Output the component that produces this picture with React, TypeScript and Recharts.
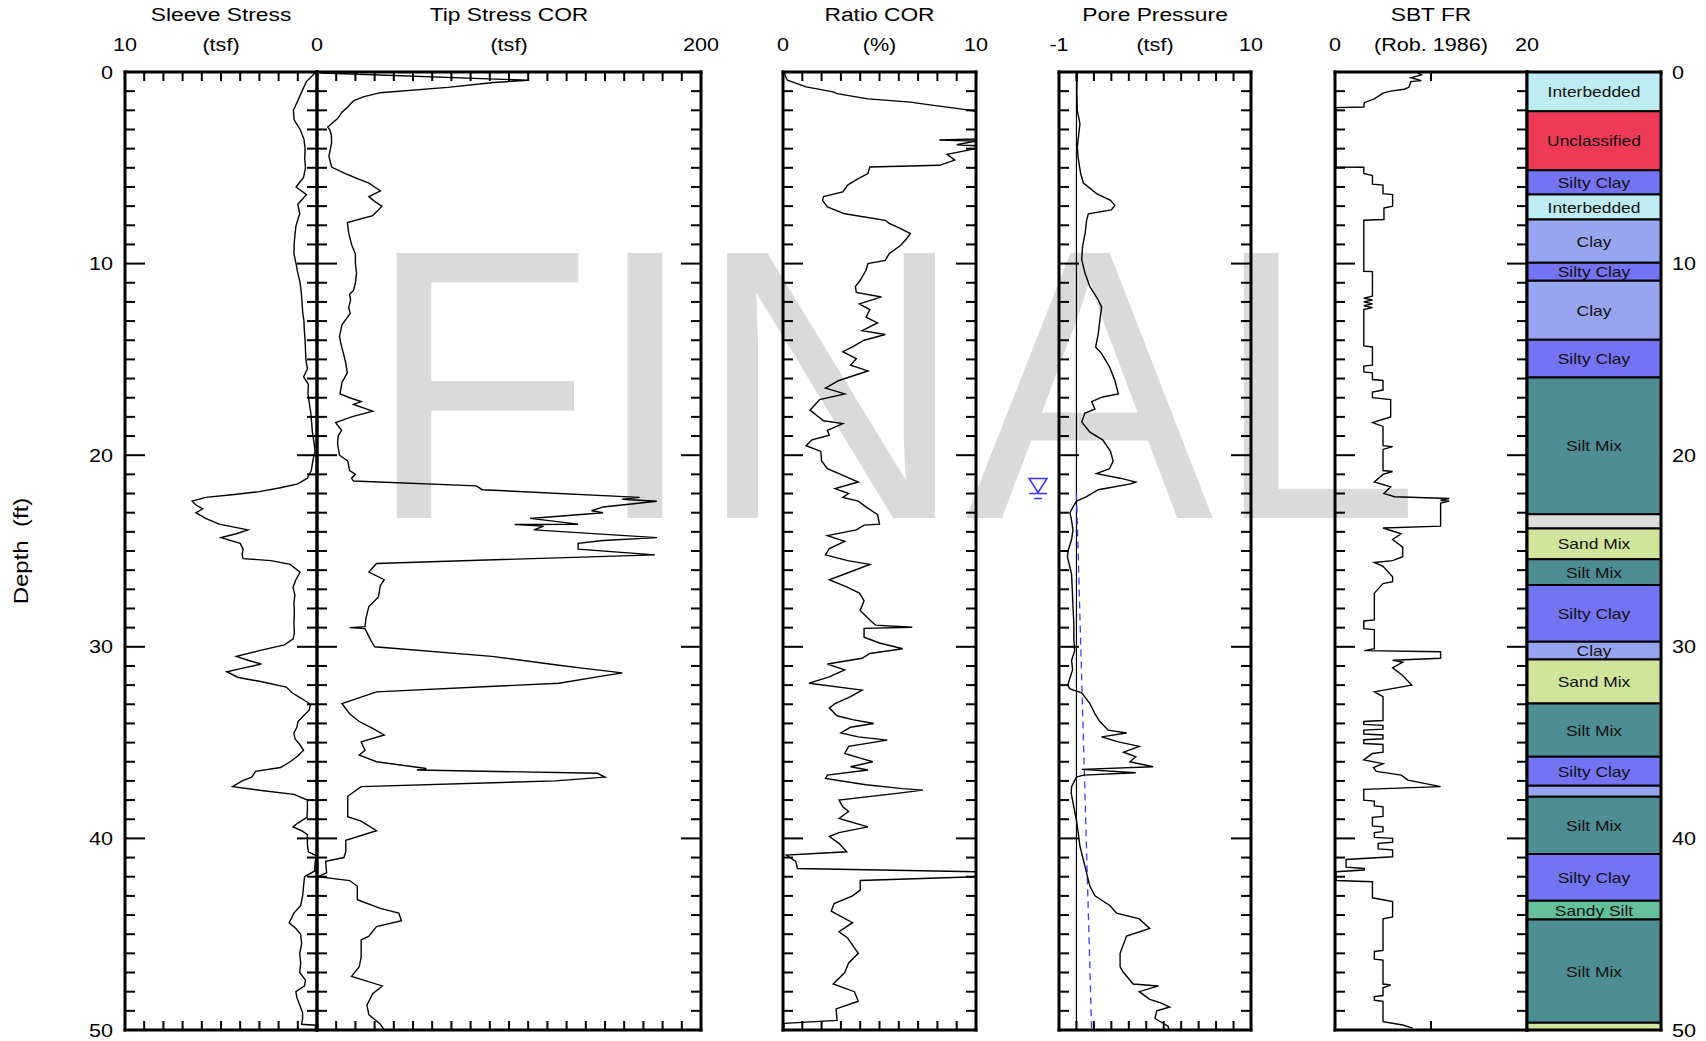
import React from "react";
import { ScatterChart, Scatter, XAxis, YAxis, ReferenceArea, ReferenceLine, ReferenceDot } from "recharts";

const FONT = '"Liberation Sans", Arial, Helvetica, sans-serif';
const TOP = 72;
const PLOT_H = 958;
const PAD = 12;
const BORDER = { stroke: "#000", strokeWidth: 3, strokeLinecap: "square" };

// ---- CPT readings (depth in ft) ----
const SLEEVE_DEPTH = [
  0, 0.5, 1, 1.5, 2, 2.5, 3, 3.5, 4, 4.5, 5, 5.5, 6, 6.4, 6.9, 7.4, 8, 8.5, 9, 9.5, 10, 10.5, 11, 11.5, 12, 12.5,
  13, 13.5, 14, 14.5, 15, 15.5, 15.9, 16.3, 16.8, 17.3, 17.8, 18.3, 18.8, 19.3, 19.8, 20.2, 20.8, 21.2, 21.5, 21.7,
  21.9, 22.05, 22.2, 22.4, 22.6, 22.8, 23, 23.3, 23.6, 23.9, 24.1, 24.3, 24.6, 24.9, 25.2, 25.4, 25.5, 25.7, 26.1,
  26.5, 26.9, 27.3, 27.7, 28.2, 28.8, 29.3, 29.6, 29.9, 30.2, 30.5, 30.7, 30.9, 31.1, 31.3, 31.6, 31.8, 32.1, 32.4,
  32.7, 33, 33.3, 33.6, 33.9, 34.2, 34.5, 34.8, 35.1, 35.4, 35.7, 36, 36.3, 36.5, 36.8, 37, 37.3, 37.5, 37.7, 38,
  38.5, 38.9, 39.2, 39.4, 39.6, 39.8, 40.3, 40.7, 40.9, 41.3, 41.7, 42, 42.5, 43, 43.5, 43.9, 44.4, 44.7, 45, 45.5,
  46, 46.5, 47, 47.4, 47.7, 48, 48.3, 48.7, 49.1, 49.4, 49.7, 49.75, 50,
];
const SLEEVE_TSF = [
  0.05, 0.55, 0.78, 1, 1.23, 1.19, 0.88, 0.68, 0.62, 0.64, 0.6, 0.7, 1.09, 0.55, 1, 0.9, 1.09, 1.15, 1.19, 1.2, 1.09,
  1, 0.88, 0.82, 0.78, 0.75, 0.68, 0.66, 0.62, 0.6, 0.58, 0.5, 0.7, 0.45, 0.47, 0.4, 0.32, 0.28, 0.24, 0.16, 0.1,
  0.2, 0.3, 0.5, 1, 1.9, 3, 4.3, 5.8, 6.5, 6.3, 5.95, 6.3, 5.8, 5.1, 3.6, 4.2, 5, 4, 3.85, 3.9, 3.85, 2.4, 1.4, 0.88,
  1.1, 1.25, 1.15, 1.2, 1.18, 1.2, 1.18, 1.25, 1.7, 3, 4.2, 3.6, 2.9, 3.8, 4.7, 4.1, 3, 1.6, 1.3, 0.8, 0.35, 0.4,
  0.7, 0.99, 1.05, 1.2, 1.15, 0.9, 0.7, 1, 1.4, 1.9, 3.2, 3.4, 3.9, 4.4, 2.9, 1.2, 0.5, 0.5, 0.52, 1, 1.25, 0.8,
  0.5, 0.5, 0.45, 0.05, 0.1, 0.12, 0.65, 0.7, 0.75, 0.85, 1.2, 1.45, 1.1, 0.85, 0.8, 0.9, 0.85, 0.9, 0.6, 0.65, 1.1,
  1.05, 0.9, 0.75, 0.75, 0.8, 0.08, 0.08,
];

const TIP_DEPTH = [
  0, 0.05, 0.43, 0.55, 0.8, 1.08, 1.3, 1.5, 1.83, 2.1, 2.43, 2.87, 3, 3.3, 3.7, 4.1, 4.4, 4.96, 5.3, 5.6, 5.8, 6.2,
  6.5, 6.75, 7, 7.3, 7.5, 7.86, 8.4, 9, 9.5, 10, 10.5, 11, 11.4, 11.6, 11.9, 12.3, 12.6, 13.2, 13.8, 14.2, 14.7,
  15.2, 15.7, 16.2, 16.8, 17, 17.2, 17.35, 17.7, 18, 18.3, 18.7, 19, 19.4, 20, 20.3, 20.8, 21, 21.2, 21.35, 21.6,
  21.8, 22.2, 22.3, 22.4, 22.7, 22.9, 23, 23.3, 23.6, 23.62, 23.7, 23.9, 24.3, 24.45, 24.6, 24.9, 25.2, 25.65, 26.1,
  26.5, 26.8, 27.4, 27.9, 28.5, 28.95, 29, 29.05, 29.65, 30, 30.5, 30.96, 31.1, 31.36, 31.57, 31.9, 32.35, 32.96,
  33.5, 33.9, 34.26, 34.6, 34.96, 35.4, 35.65, 36, 36.35, 36.43, 36.6, 36.8, 37, 37.3, 37.8, 38.87, 39.1, 39.6,
  40.1, 40.7, 41, 41.2, 41.8, 42, 42.2, 42.5, 43.2, 43.65, 43.9, 44.3, 44.6, 45.1, 45.3, 46.2, 46.7, 47.2, 47.7,
  48.1, 48.7, 49.2, 49.7, 50,
];
const TIP_TSF = [
  0, 3, 110, 92, 68, 33, 24, 19, 16, 13, 10.7, 5.6, 6.6, 7.5, 7.6, 6.8, 6.2, 7.6, 14.8, 22, 27, 33, 27, 30, 33.8, 31,
  29, 15.8, 16.5, 18, 20, 20, 20.6, 20, 19, 17, 17.5, 16.5, 17.3, 13, 11.7, 12.5, 13.8, 15, 15.8, 13, 12, 17, 23, 19,
  29, 18, 9.7, 12.8, 11, 10.7, 11.7, 16, 17, 20, 18, 19, 83, 86, 168, 159, 177, 149, 143, 149, 111, 136, 103, 118,
  113, 177, 149, 136, 136, 176, 31, 27, 35, 33, 32, 27, 25.5, 25, 17, 25, 28, 30, 91, 126, 137, 159, 146, 126, 31,
  13, 17, 22, 29, 35, 23, 25, 22, 31, 57, 52, 146, 150, 124, 23, 16, 16, 23, 31, 15, 15, 14, 4.5, 5, 0.4, 17, 21,
  21, 33, 42.6, 44, 31, 27, 23, 23, 22, 18, 34, 29, 26, 27, 33, 35,
];

const RATIO_DEPTH = [
  0, 0.17, 0.43, 0.78, 1.04, 1.13, 1.4, 1.57, 1.74, 1.9, 2.05, 3.5, 3.55, 3.6, 3.8, 3.85, 4, 4.3, 4.6, 4.87, 4.96,
  5.3, 5.57, 5.9, 6.26, 6.5, 6.7, 7.04, 7.4, 7.74, 7.9, 8.17, 8.43, 8.7, 9.04, 9.48, 9.83, 10, 10.35, 10.87, 11.2,
  11.5, 11.74, 12.1, 12.4, 12.8, 13.1, 13.5, 13.7, 14, 14.35, 14.6, 14.96, 15.3, 15.6, 15.8, 16.1, 16.5, 16.8, 17.1,
  17.65, 18.2, 18.35, 18.7, 18.96, 19.2, 19.5, 19.8, 20.3, 20.7, 20.96, 21.4, 21.74, 22, 22.2, 22.4, 22.7, 23.1,
  23.6, 23.65, 23.9, 24.2, 24.5, 24.87, 25.2, 25.5, 25.7, 26.2, 26.5, 26.9, 27.2, 27.6, 28.1, 28.6, 28.87, 28.98,
  29.04, 29.5, 29.8, 30.1, 30.35, 30.6, 30.9, 31.2, 31.57, 31.9, 32.26, 32.6, 32.96, 33.2, 33.6, 33.8, 34, 34.2,
  34.5, 34.7, 34.87, 35.2, 35.57, 35.8, 36, 36.26, 36.43, 36.7, 36.87, 37.2, 37.4, 37.48, 37.65, 38, 38.35, 38.6,
  38.96, 39.4, 39.7, 39.9, 40.26, 40.7, 40.87, 41.2, 41.57, 41.74, 42, 42.2, 42.7, 43, 43.4, 43.8, 44.4, 44.87,
  45.2, 46, 46.5, 47, 47.6, 48, 48.5, 48.9, 49.5, 49.65, 49.9,
];
const RATIO_PCT = [
  0.1, 0.1, 0.23, 1.2, 2.6, 2.8, 4.4, 6.6, 7.8, 9, 10, 10, 8.1, 10, 9, 10, 10, 8.5, 8.9, 8.1, 4.5, 4.4, 3.9, 3.35,
  3.1, 2.1, 2.05, 2.3, 3.2, 5.3, 5.5, 6.1, 6.6, 6.4, 6.1, 5.5, 5.3, 4.4, 4.3, 4, 3.75, 3.8, 5.1, 3.96, 4.5, 4.3, 4.9,
  4.1, 5.3, 4.2, 3.6, 3.1, 3.8, 3.5, 4.4, 3.8, 2.9, 2.2, 3.2, 1.9, 1.4, 2.1, 3.1, 2.3, 2.4, 1.5, 1.2, 1.96, 2, 2.3,
  2.9, 3.9, 2.7, 3.4, 3.1, 3.9, 4.3, 4.9, 5, 4.2, 3.8, 2.3, 3.2, 2.4, 2.2, 3.35, 4.5, 3.2, 2.4, 3.35, 3.96, 4.2, 4,
  4.5, 4.8, 6.7, 4.2, 4.2, 5, 6.2, 4.5, 4.1, 2.3, 3.2, 2.4, 1.35, 4.1, 3.5, 2.7, 2.4, 2.8, 3.6, 4.7, 3.5, 3, 3.9,
  5.4, 3.4, 3.2, 3.96, 4.65, 3.5, 4.4, 2.3, 2.2, 4.3, 6.2, 7.25, 5.9, 2.9, 3.1, 3.4, 2.9, 4.4, 2.9, 2.4, 2.9, 3.3,
  0.17, 0.66, 0.75, 10, 10, 4, 4, 3.6, 2.65, 2.5, 3.6, 2.9, 3.35, 3.9, 3.4, 3.2, 2.6, 3.7, 3.9, 2.75, 2.8, 0.05,
  0.05,
];

const PORE_DEPTH = [
  0, 1, 2, 2.7, 3.9, 4.5, 5.3, 5.8, 6.35, 6.7, 6.96, 7.2, 7.4, 7.74, 8.4, 9.1, 9.8, 10.5, 11.2, 11.9, 12.26, 12.96,
  13.65, 14.35, 14.7, 15.4, 16.1, 16.8, 16.96, 17.2, 17.6, 17.8, 18.26, 18.8, 19.2, 19.8, 20.3, 20.7, 20.96, 21.2,
  21.4, 21.5, 21.8, 22.2, 22.4, 22.7, 23, 23.4, 23.9, 24.4, 24.96, 25.3, 26.2, 27, 27.9, 28.8, 29.65, 30.2, 30.7,
  31.2, 32, 32.2, 32.4, 32.96, 33.5, 33.9, 34.35, 34.5, 34.7, 34.96, 35.2, 35.5, 35.74, 36, 36.26, 36.4, 36.57, 36.7,
  36.8, 37.3, 37.65, 38.35, 39.04, 39.7, 40.4, 41.1, 41.8, 42.5, 43, 43.5, 43.9, 44.2, 44.7, 45.1, 46, 46.7, 47,
  47.6, 47.7, 48, 48.4, 48.6, 48.8, 49, 49.4, 49.8, 50,
];
const PORE_TSF = [
  0.05, 0.02, 0.05, 0.2, 0.05, 0.1, 0.24, 0.4, 1.15, 1.95, 2.2, 2, 0.68, 0.58, 0.5, 0.35, 0.3, 0.49, 0.77, 1.25, 1.44,
  1.34, 1.25, 1.1, 1.44, 1.9, 2.2, 2.4, 1.5, 0.87, 1.06, 0.49, 0.3, 0.77, 1.5, 1.95, 2.1, 1.9, 1.15, 2.5, 3.4, 3.1,
  1.25, 0.5, 0, -0.2, -0.37, -0.28, -0.2, -0.28, -0.47, -0.52, -0.28, -0.24, -0.2, -0.15, -0.15, -0.1, -0.28, -0.22,
  -0.5, -0.37, 0.3, 0.77, 1.06, 1.34, 1.82, 2.87, 1.44, 2.4, 3.6, 2.7, 3.4, 3.06, 4.4, 0.3, 3.4, 0.4, 0, -0.28, -0.3,
  -0.15, 0, 0.1, 0.2, 0.39, 0.58, 0.77, 1.06, 1.91, 2.3, 3.6, 4.2, 2.87, 2.5, 2.5, 2.7, 3.25, 4.7, 3.6, 4.2, 4.87,
  5.34, 4.6, 4.5, 5.25, 5.3,
];

const WATER_TABLE = 22;
const HYDRO_DEPTH = [22, 50];
const HYDRO_TSF = [0, 0.87];

const SBT_DEPTH = [
  0.05, 0.15, 0.3, 0.45, 0.5, 0.8, 0.9, 1, 1.1, 1.4, 1.6, 1.83, 1.86, 4.96, 4.97, 5.3, 5.4, 5.85, 5.9, 6.35, 6.4, 7,
  7.1, 7.7, 7.74, 10.4, 10.42, 11.7, 11.8, 11.9, 12, 12.1, 12.2, 12.3, 12.4, 14.3, 14.35, 15.3, 15.35, 15.65, 15.7,
  16.05, 16.1, 16.6, 16.7, 17, 17.1, 18, 18.3, 18.5, 19.5, 19.55, 19.7, 20.8, 20.85, 21, 21.4, 21.65, 22, 22.17,
  22.26, 22.35, 22.4, 22.5, 23.7, 23.8, 24.1, 24.4, 24.8, 25.3, 25.5, 25.6, 25.8, 26.35, 26.6, 26.7, 27.2, 28.6,
  28.65, 29.05, 29.1, 30.1, 30.2, 30.26, 30.6, 30.7, 30.8, 31.1, 31.5, 32, 32.35, 32.6, 33.85, 33.9, 34.05, 34.1,
  34.3, 34.35, 34.55, 34.6, 34.8, 34.85, 35.05, 35.1, 35.5, 35.57, 35.9, 36.1, 36.3, 36.5, 36.7, 36.96, 37.3, 37.44,
  38, 38.05, 38.3, 38.35, 38.85, 38.9, 39.35, 39.4, 39.65, 39.7, 39.95, 40, 40.2, 40.26, 40.55, 40.6, 40.96, 41.1,
  41.5, 41.57, 41.65, 41.74, 42.2, 42.26, 43.1, 43.3, 44.1, 44.2, 45.85, 45.9, 46.3, 46.35, 47.6, 47.65, 47.8, 48.2,
  48.26, 48.45, 48.5, 49.56, 49.74, 49.9,
];
const SBT_INDEX = [
  8.6, 9, 7.9, 9, 7.9, 7.7, 7.2, 5.8, 5, 4.1, 3.05, 3, 0.1, 0.1, 3, 3, 3.9, 3.9, 5, 5, 6, 6, 5.1, 5.1, 3, 3, 3.9, 3.9,
  3, 3.9, 3, 3.9, 3, 3.9, 3, 3, 3.9, 3.9, 3, 3, 3.9, 3.9, 5, 5, 3.9, 3.9, 5.8, 5.8, 3.9, 5, 5, 6, 5, 5, 6, 5, 4.1,
  5.8, 5.1, 6.2, 11.9, 11, 11.9, 11, 11, 5, 6.9, 6, 7.05, 7.05, 6, 4.1, 5, 6, 6, 5, 4.1, 4.1, 3, 3, 4.1, 4.1, 3.05,
  11, 11, 6, 7.05, 6, 7.05, 8, 4.1, 5, 5, 3, 3, 5, 5, 3, 3, 5, 5, 3, 3, 5, 5, 3.9, 3, 5, 4, 4.3, 6.9, 7.6, 11, 3, 3,
  4.1, 4.1, 5, 5, 3.9, 3.9, 5, 5, 4.1, 4.1, 6, 6, 4.5, 4.5, 6, 6, 1.15, 1.15, 3.05, 3.05, 0.1, 0.1, 3.9, 3.9, 6, 6,
  5, 5, 4.1, 4.1, 5, 5, 5.8, 5, 5, 4.1, 4.1, 5, 5, 7.05, 8.1,
];

// soil behaviour column: boundaries and names
const LAYER_TOPS = [
  0, 2.05, 5.13, 6.4, 7.7, 9.95, 10.9, 13.97, 15.95, 23.08, 23.83, 25.43, 26.78, 29.74, 30.66, 32.96, 35.74, 37.25,
  37.83, 40.82, 43.25, 44.23, 49.62, 50,
];
const LAYER_NAMES = [
  "Interbedded", "Unclassified", "Silty Clay", "Interbedded", "Clay", "Silty Clay", "Clay", "Silty Clay", "Silt Mix",
  "Sand", "Sand Mix", "Silt Mix", "Silty Clay", "Clay", "Sand Mix", "Silt Mix", "Silty Clay", "Clay", "Silt Mix",
  "Silty Clay", "Sandy Silt", "Silt Mix", "Sand Mix",
];
const SOIL_COLORS: Record<string, string> = {
  Interbedded: "#bdecf3",
  Unclassified: "#ef3a57",
  "Silty Clay": "#7373f3",
  Clay: "#97a5ef",
  "Silt Mix": "#4f8d94",
  Sand: "#dcdcdc",
  "Sand Mix": "#d0e59c",
  "Sandy Silt": "#63c09b",
};

const PANEL_TITLES = ["Sleeve Stress", "Tip Stress COR", "Ratio COR", "Pore Pressure", "SBT FR"];
const PANEL_UNITS = ["(tsf)", "(tsf)", "(%)", "(tsf)", "(Rob. 1986)"];
const PANEL_MIN = ["10", "", "0", "-1", "0"];
const PANEL_MAX = ["0", "200", "10", "10", "20"];

const DEPTH_TICKS = Array.from({ length: 51 }, (_, i) => i);
const DEPTH_MAJOR = [0, 10, 20, 30, 40, 50];

const zip = (d: number[], v: number[]) => d.map((depth, i) => ({ d: depth, v: v[i] }));

function Txt({ x, y, anchor = "middle", size = 18, sx = 1.2, sy = 1, rot = 0, fill = "#000", children }: any) {
  return (
    <text
      transform={`translate(${x} ${y}) rotate(${rot}) scale(${sx} ${sy})`}
      textAnchor={anchor}
      fontSize={size}
      fontFamily={FONT}
      fill={fill}
    >
      {children}
    </text>
  );
}

const NoDot = () => <g />;

const hTick = (dir: number) => (p: any) => (
  <line key={`h${p.index}`} x1={p.x} x2={p.x} y1={p.y} y2={p.y + dir * 9} stroke="#000" strokeWidth={2} />
);

const vTick = (dir: number, labels = false) => (p: any) => {
  const major = p.payload.value % 10 === 0;
  return (
    <g key={`v${p.index}`}>
      <line x1={p.x} x2={p.x + dir * (major ? 20 : 10)} y1={p.y} y2={p.y} stroke="#000" strokeWidth={2} />
      {labels && major && (
        <Txt x={p.x - 12} y={p.y + 6.5} anchor="end">
          {p.payload.value}
        </Txt>
      )}
    </g>
  );
};

const depthLabel = (p: any) => (
  <Txt key={`r${p.index}`} x={p.x + 11} y={p.y + 6.5} anchor="start">
    {p.payload.value}
  </Txt>
);

function WaterMark(p: any) {
  const { cx, cy } = p;
  return (
    <g stroke="#3434ff" strokeWidth={1.5} fill="none">
      <path d={`M${cx - 9},${cy - 15} L${cx + 9},${cy - 15} L${cx},${cy - 1} Z`} />
      <line x1={cx - 9} x2={cx + 9} y1={cy} y2={cy} />
      <line x1={cx - 4} x2={cx + 4} y1={cy + 5} y2={cy + 5} />
    </g>
  );
}

// axes need a non-zero size to be drawn, so they get 1px and the margin gives it back
const M = PAD - 1;

function Panel({ left, width, domain, reversed = false, ticks, series, leftLabels = false, extraLeft = 0, children }: any) {
  const w = width + 2 * PAD + extraLeft;
  const h = PLOT_H + 2 * PAD;
  const xa = { type: "number", dataKey: "v", domain, reversed, allowDataOverflow: true, ticks, interval: 0,
    height: 1, tickSize: 0, tickMargin: 0, tickLine: false, axisLine: BORDER };
  const ya = { type: "number", dataKey: "d", domain: [0, 50], reversed: true, allowDataOverflow: true,
    ticks: DEPTH_TICKS, interval: 0, width: 1, tickSize: 0, tickMargin: 0, tickLine: false, axisLine: BORDER };
  return (
    <div style={{ position: "absolute", left: left - PAD - extraLeft, top: TOP - PAD, width: w, height: h }}>
      <ScatterChart width={w} height={h} margin={{ top: M, bottom: M, left: M + extraLeft, right: M }}>
        <XAxis xAxisId="t" orientation="top" {...(xa as any)} tick={hTick(1)} />
        <XAxis xAxisId="b" orientation="bottom" {...(xa as any)} tick={hTick(-1)} />
        <YAxis yAxisId="l" orientation="left" {...(ya as any)} tick={vTick(1, leftLabels)} />
        <YAxis yAxisId="r" orientation="right" {...(ya as any)} tick={vTick(-1)} />
        {children}
        {series.map((s: any, i: number) => (
          <Scatter key={i} xAxisId="t" yAxisId="l" data={s.data} isAnimationActive={false} fill="none"
            shape={NoDot} lineType="joint"
            line={{ stroke: s.stroke ?? "#000", strokeWidth: s.width ?? 1.4, strokeDasharray: s.dash }} />
        ))}
      </ScatterChart>
    </div>
  );
}

function LayerLabel(props: any) {
  const vb = props.viewBox;
  if (!vb) return null;
  return (
    <text
      transform={`translate(${vb.x + vb.width / 2} ${vb.y + vb.height / 2}) scale(1.16 1)`}
      textAnchor="middle"
      dominantBaseline="central"
      fontSize={15}
      fontFamily={FONT}
      fill="#111"
    >
      {props.name}
    </text>
  );
}

function SoilColumn({ left, width }: { left: number; width: number }) {
  const w = width + 2 * PAD + 40;
  const h = PLOT_H + 2 * PAD;
  const xa = { type: "number", dataKey: "v", domain: [0, 1], allowDataOverflow: true, height: 1, tick: false,
    tickLine: false, axisLine: BORDER };
  const anchors = LAYER_TOPS.map((d) => ({ d, v: 0.5 }));
  return (
    <div style={{ position: "absolute", left: left - PAD, top: TOP - PAD, width: w, height: h }}>
      <ScatterChart width={w} height={h} margin={{ top: M, bottom: M, left: M, right: M + 40 }}>
        <XAxis xAxisId="t" orientation="top" {...(xa as any)} />
        <XAxis xAxisId="b" orientation="bottom" {...(xa as any)} />
        <YAxis yAxisId="l" orientation="left" type="number" dataKey="d" domain={[0, 50]} reversed allowDataOverflow
          width={1} tick={false} tickLine={false} axisLine={BORDER} />
        <YAxis yAxisId="r" orientation="right" type="number" dataKey="d" domain={[0, 50]} reversed allowDataOverflow
          width={1} ticks={DEPTH_MAJOR} interval={0} tickSize={0} tickMargin={0} tickLine={false} axisLine={BORDER}
          tick={depthLabel} />
        {LAYER_NAMES.map((name, i) => (
          <ReferenceArea key={i} xAxisId="t" yAxisId="l" x1={0} x2={1} y1={LAYER_TOPS[i]} y2={LAYER_TOPS[i + 1]}
            fill={SOIL_COLORS[name]} fillOpacity={1} stroke="#000" strokeWidth={2} ifOverflow="visible"
            label={LAYER_TOPS[i + 1] - LAYER_TOPS[i] >= 0.85 ? <LayerLabel name={name} /> : undefined} />
        ))}
        <Scatter xAxisId="t" yAxisId="l" data={anchors} isAnimationActive={false} fill="none" shape={NoDot} />
      </ScatterChart>
    </div>
  );
}

const LAYOUT = [
  { left: 125, width: 192 },
  { left: 317, width: 384 },
  { left: 783, width: 193 },
  { left: 1059, width: 192 },
  { left: 1335, width: 192 },
];

export default function App() {
  return (
    <div style={{ position: "absolute", left: 0, top: 0, width: 1706, height: 1041, background: "#fff", overflow: "hidden" }}>
      <svg width={1706} height={1041} style={{ position: "absolute", left: 0, top: 0 }}>
        <text transform="translate(366 518) scale(1 1.035)" fontSize={372} fontFamily={FONT} fill="#dadada">
          FINAL
        </text>
        {LAYOUT.map((p, i) => (
          <g key={i}>
            <Txt x={p.left + p.width / 2} y={21} size={19}>{PANEL_TITLES[i]}</Txt>
            <Txt x={p.left + p.width / 2} y={51}>{PANEL_UNITS[i]}</Txt>
            {PANEL_MIN[i] && <Txt x={p.left} y={51}>{PANEL_MIN[i]}</Txt>}
            <Txt x={p.left + p.width} y={51}>{PANEL_MAX[i]}</Txt>
          </g>
        ))}
        <Txt x={28} y={551} size={20} rot={-90} sx={1.2}>
          {"Depth\u00a0\u00a0(ft)"}
        </Txt>
      </svg>

      <Panel {...LAYOUT[0]} domain={[0, 10]} reversed ticks={[1, 2, 3, 4, 5, 6, 7, 8, 9]} leftLabels extraLeft={50}
        series={[{ data: zip(SLEEVE_DEPTH, SLEEVE_TSF) }]} />
      <Panel {...LAYOUT[1]} domain={[0, 200]} ticks={Array.from({ length: 19 }, (_, i) => (i + 1) * 10)}
        series={[{ data: zip(TIP_DEPTH, TIP_TSF) }]} />
      <Panel {...LAYOUT[2]} domain={[0, 10]} ticks={[1, 2, 3, 4, 5, 6, 7, 8, 9]}
        series={[{ data: zip(RATIO_DEPTH, RATIO_PCT) }]} />
      <Panel {...LAYOUT[3]} domain={[-1, 10]} ticks={[0, 1, 2, 3, 4, 5, 6, 7, 8, 9]} extraLeft={36}
        series={[
          { data: zip(HYDRO_DEPTH, HYDRO_TSF), stroke: "#3c3cff", width: 1.3, dash: "7 5" },
          { data: zip(PORE_DEPTH, PORE_TSF) },
        ]}>
        <ReferenceLine xAxisId="t" yAxisId="l" x={0} stroke="#000" strokeWidth={1.2} />
        <ReferenceDot xAxisId="t" yAxisId="l" x={-2.2} y={WATER_TABLE} ifOverflow="visible" shape={WaterMark} />
      </Panel>
      <Panel {...LAYOUT[4]} domain={[0, 20]} ticks={[10]}
        series={[{ data: zip(SBT_DEPTH, SBT_INDEX) }]} />
      <SoilColumn left={1527} width={134} />
    </div>
  );
}
